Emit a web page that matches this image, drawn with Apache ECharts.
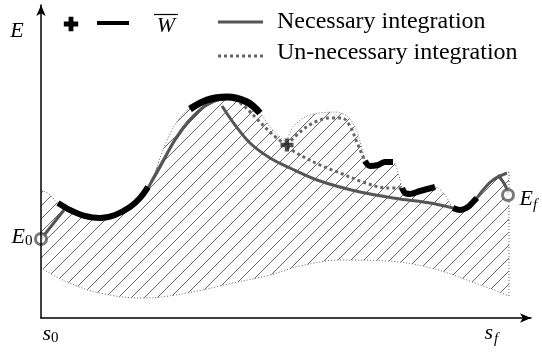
<!DOCTYPE html>
<html><head><meta charset="utf-8">
<script src="https://cdn.jsdelivr.net/npm/echarts@6/dist/echarts.min.js"></script>
<style>html,body{margin:0;padding:0;background:#fff}#c{width:542px;height:352px}</style>
</head><body><div id="c"></div>
<script>
// Data coordinates: s along x (0..490), E along y (0..313)
const upperEnvelope = [[0,128],[8,124],[17,115],[29,108],[44,102],[59,100],[74,103],[89,111],[99,120],[107,130],[114,146],[122,168],[132,190],[144,206],[154,213],[166,218],[186,221],[206,216],[219,205],[229,191],[239,181],[244,177],[252,191],[264,201],[279,205],[294,206],[306,202],[314,191],[320,173],[324,158],[329,152],[337,153],[344,156],[352,156],[358,142],[361,130],[364,125],[369,124],[379,127],[394,131],[404,123],[412,110],[419,108],[427,111],[432,116],[436,120],[445,132],[455,141],[468,146]];
const lowerBoundary = [[0,50],[26,36],[59,25],[102,20],[146,25],[192,35],[229,43],[259,52],[302,58],[346,57],[386,51],[426,38],[468,22]];
const rightBoundary = [[468,146],[468,22]];

const wbar1 = [[17,115],[29,108],[44,102],[59,100],[74,103],[89,111],[99,120],[107,131]];
const wbar2 = [[149,209],[166,218],[186,221],[206,216],[219,205]];
const wbar3 = [[324,157],[329,152],[337,153],[344,156],[352,156]];
const wbar4 = [[361,130],[364,125],[369,124],[379,127],[394,131]];
const wbar5 = [[412,110],[419,108],[427,111],[432,116],[436,120]];

const necStart = [[0,79],[23,108]];
const necRise = [[107,130],[119,151],[134,178],[149,198],[164,212],[179,219],[189,220]];
const necRiseThin = [[109,136],[124,163],[139,188],[154,205],[169,215],[184,220]];
const necDescent = [[181,212],[194,193],[209,175],[229,160],[249,150],[279,137],[319,126],[359,119],[389,115],[412,110]];
const necEnd = [[436,120],[442,128],[452,138],[466,145]];
const necToEf = [[457,143],[464,133],[467,125]];

const unnec1 = [[194,219],[204,211],[217,198],[231,184],[245,173]];
const unnec2 = [[246,173],[259,186],[274,196],[289,200],[301,200],[309,192],[315,178],[320,166],[324,157]];
const unnec3 = [[246,171],[259,163],[279,153],[299,145],[322,136],[346,130],[361,130]];

const plusPoint = [[246,173]];
const E0 = [[0,79]];
const Ef = [[467,123]];

function hatchCanvas(){
  const s = 13, c = document.createElement('canvas');
  c.width = s; c.height = s;
  const g = c.getContext('2d');
  g.fillStyle = '#fff'; g.fillRect(0,0,s,s);
  g.strokeStyle = '#555'; g.lineWidth = 0.9;
  g.beginPath();
  for (const o of [-s, 0, s]) { g.moveTo(o, s); g.lineTo(o + s, 0); }
  g.stroke();
  return c;
}

const PLUS = 'path://M4,0H8V4H12V8H8V12H4V8H0V4H4Z';
const line = (data, color, width, type, z, smooth) => ({
  type: 'line', data, symbol: 'none', smooth: smooth === undefined ? 0.35 : smooth, z, silent: true,
  animation: false, lineStyle: { color, width, type, cap: 'butt', join: 'round' }
});

const chart = echarts.init(document.getElementById('c'));
const serif = 'Liberation Serif';
const T = (text, x, y, size, italic, align) => ({
  type: 'text', silent: true,
  style: { text, x, y, font: (italic ? 'italic ' : '') + size + 'px "' + serif + '"', fill: '#000', textAlign: align || 'left', textVerticalAlign: 'middle' }
});
const plusPts = (cx, cy, a) => [[cx-a,cy-3*a],[cx+a,cy-3*a],[cx+a,cy-a],[cx+3*a,cy-a],[cx+3*a,cy+a],[cx+a,cy+a],[cx+a,cy+3*a],[cx-a,cy+3*a],[cx-a,cy+a],[cx-3*a,cy+a],[cx-3*a,cy-a],[cx-a,cy-a]];

chart.setOption({
  animation: false,
  backgroundColor: '#fff',
  grid: { left: 41, top: 5, width: 490, height: 313 },
  xAxis: { type: 'value', min: 0, max: 490, z: 10,
    axisLine: { show: true, onZero: true, lineStyle: { color: '#000', width: 1.5 }, symbol: ['none', 'arrow'], symbolSize: [7, 11] },
    axisTick: { show: false }, axisLabel: { show: false }, splitLine: { show: false } },
  yAxis: { type: 'value', min: 0, max: 313, z: 10,
    axisLine: { show: true, onZero: true, lineStyle: { color: '#000', width: 1.5 }, symbol: ['none', 'arrow'], symbolSize: [7, 11] },
    axisTick: { show: false }, axisLabel: { show: false }, splitLine: { show: false } },
  series: [
    Object.assign(line(upperEnvelope, '#666', 1, [1, 2], 1, 0.3), { areaStyle: { color: { image: hatchCanvas(), repeat: 'repeat' }, opacity: 1, origin: 'start' } }),
    Object.assign(line(lowerBoundary, '#666', 1, [1, 2], 2, 0.4), { areaStyle: { color: '#fff', opacity: 1, origin: 'start' } }),
    line(rightBoundary, '#666', 1, [1, 2], 2, 0),
    line(necRiseThin, '#777', 1, 'solid', 3),
    line(unnec1, '#666', 3, [3, 3], 3),
    line(unnec2, '#666', 3, [3, 3], 3),
    line(unnec3, '#666', 3, [3, 3], 3),
    line(necStart, '#555', 3, 'solid', 4, 0),
    line(necRise, '#555', 3, 'solid', 4),
    line(necDescent, '#555', 3, 'solid', 4),
    line(necEnd, '#555', 3, 'solid', 4),
    line(necToEf, '#555', 3, 'solid', 4),
    line(wbar1, '#000', 6, 'solid', 5),
    line(wbar2, '#000', 7, 'solid', 5),
    line(wbar3, '#000', 6, 'solid', 5),
    line(wbar4, '#000', 6, 'solid', 5),
    line(wbar5, '#000', 6, 'solid', 5),
    { type: 'scatter', data: plusPoint, symbol: PLUS, symbolSize: 13, z: 6, silent: true, itemStyle: { color: '#222' } },
    { type: 'scatter', data: E0.concat(Ef), symbol: 'circle', symbolSize: 11, z: 7, silent: true,
      itemStyle: { color: '#fff', borderColor: '#555', borderWidth: 3 } }
  ],
  graphic: [
    T('E', 17, 31, 22, true, 'center'),
    T('E', 25, 237, 22, true, 'right'),
    T('0', 25, 241, 15, false, 'left'),
    T('E', 533, 199, 22, true, 'right'),
    T('f', 533, 205, 15, true, 'left'),
    T('s', 51, 334, 22, true, 'right'),
    T('0', 51, 338, 15, false, 'left'),
    T('s', 493, 333, 22, true, 'right'),
    T('f', 494, 339, 15, true, 'left'),
    T('\u{1D4B2}', 262, 207, 31, false, 'center'),
    { type: 'polygon', silent: true, shape: { points: plusPts(71, 24, 2.4) }, style: { fill: '#000' } },
    { type: 'line', silent: true, shape: { x1: 97, y1: 23, x2: 129, y2: 23 }, style: { stroke: '#000', lineWidth: 4 } },
    T('W', 166, 26, 22, true, 'center'),
    { type: 'line', silent: true, shape: { x1: 154, y1: 14.5, x2: 178, y2: 14.5 }, style: { stroke: '#000', lineWidth: 1.2 } },
    { type: 'line', silent: true, shape: { x1: 218, y1: 22, x2: 263, y2: 22 }, style: { stroke: '#555', lineWidth: 3 } },
    T('Necessary integration', 277, 22, 24, false, 'left'),
    { type: 'line', silent: true, shape: { x1: 218, y1: 56, x2: 263, y2: 56 }, style: { stroke: '#666', lineWidth: 3, lineDash: [3, 3] } },
    T('Un-necessary integration', 277, 53, 24, false, 'left')
  ]
});
</script>
</body></html>
